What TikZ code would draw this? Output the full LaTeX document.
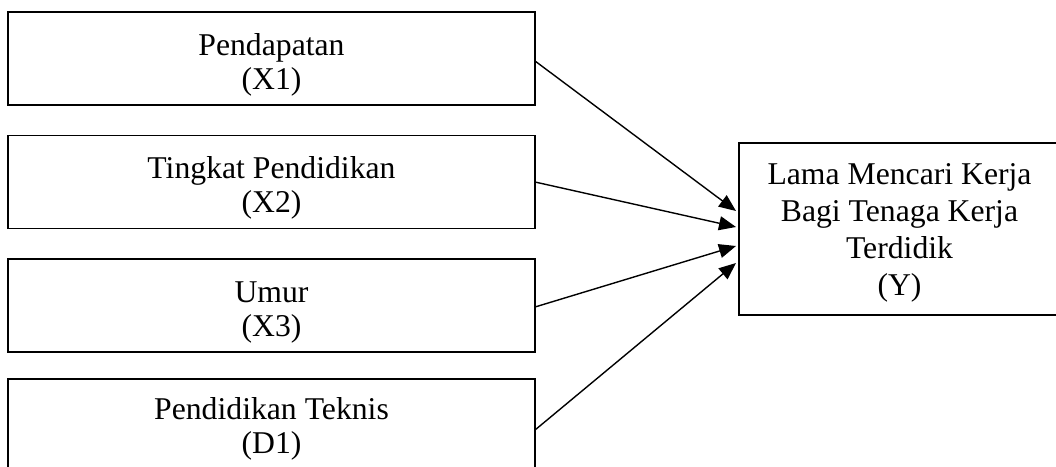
\documentclass[tikz,border=0pt]{standalone}
\usepackage{fontspec}
\setmainfont{Liberation Serif}
\usetikzlibrary{arrows.meta,calc}
\begin{document}
\begin{tikzpicture}[x=1pt,y=-1pt,
  box/.style={draw, line width=1.4pt, rectangle, inner sep=0pt, outer sep=0pt},
  lbox/.style={box, minimum width=527pt, minimum height=93pt},
  txt/.style={anchor=base, inner sep=0pt, font=\fontsize{31.7}{36}\selectfont},
  conn/.style={line width=1.4pt, -{Triangle[length=17pt,width=14pt]}}]
\useasboundingbox (0,0) rectangle (1056,466);
\clip (0,0) rectangle (1056,466);
% left boxes
\node[lbox] (b1) at (271.5,58.5) {};
\node[lbox] (b2) at (271.5,182) {};
\node[lbox] (b3) at (271.5,305.5) {};
\node[lbox] (b4) at (271.5,425.5) {};
% right box
\node[box, minimum width=321pt, minimum height=172pt] (Y) at (899.5,229) {};
% texts
\node[txt] (t1a) at (271.5,55) {Pendapatan};
\node[txt] (t1b) at (271.5,89) {(X1)};
\node[txt] (t2a) at (271.5,178) {Tingkat Pendidikan};
\node[txt] (t2b) at (271.5,212) {(X2)};
\node[txt] (t3a) at (271.5,302) {Umur};
\node[txt] (t3b) at (271.5,336) {(X3)};
\node[txt] (t4a) at (271.5,419) {Pendidikan Teknis};
\node[txt] (t4b) at (271.5,453) {(D1)};
\node[txt] (ya) at (899.5,184) {Lama Mencari Kerja};
\node[txt] (yb) at (899.5,221) {Bagi Tenaga Kerja};
\node[txt] (yc) at (899.5,258) {Terdidik};
\node[txt] (yd) at (899.5,295) {(Y)};
% arrow end points on the left side of Y
\coordinate (e1) at ($(Y.west)+(-3,-18)$);
\coordinate (e2) at ($(Y.west)+(-3,-2)$);
\coordinate (e3) at ($(Y.west)+(-3,17)$);
\coordinate (e4) at ($(Y.west)+(-3,34)$);
\draw[conn] ($(b1.east)+(0,2.5)$) -- (e1);
\draw[conn] (b2.east) -- (e2);
\draw[conn] ($(b3.east)+(0,1.5)$) -- (e3);
\draw[conn] ($(b4.east)+(0,4.5)$) -- (e4);
\end{tikzpicture}
\end{document}
